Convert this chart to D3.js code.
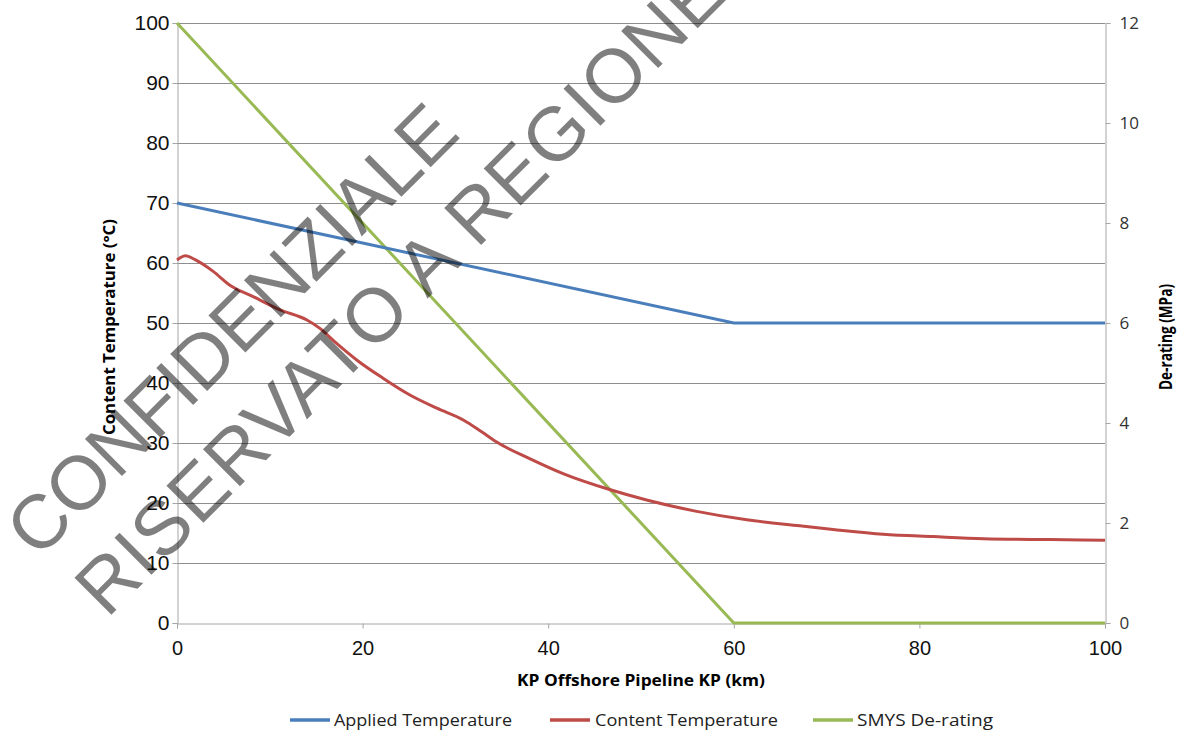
<!DOCTYPE html>
<html>
<head>
<meta charset="utf-8">
<script src="https://cdn.jsdelivr.net/npm/d3@7"></script>
<style>
  html, body { margin: 0; padding: 0; background: #fff; }
  svg { display: block; }
</style>
</head>
<body>
<svg id="chart" width="1181" height="731"></svg>
<script>
// Pipeline distance (km) and temperature / de-rating series
const appliedKP = [0, 60, 100];
const appliedTemp = [70, 50, 50];

const smysKP = [0, 60, 100];
const smysDerating = [12, 0, 0];

const contentKP = [0, 0.9, 1.9, 3.9, 5.7, 8.2, 11.1, 14.0, 15.4, 17.2, 19.4, 22.2, 25.1, 28.0,
  30.9, 32.7, 34.4, 38.0, 41.6, 46.7, 50.6, 56.0, 61.4, 67.1, 70.7, 76.1, 81.5, 86.9, 94.1, 100];
const contentTemp = [60.5, 61.2, 60.6, 58.6, 56.3, 54.4, 52.2, 50.5, 49.1, 46.6, 43.8, 40.8, 38.0, 35.8,
  33.8, 32.0, 30.2, 27.4, 24.9, 22.2, 20.5, 18.6, 17.2, 16.2, 15.6, 14.8, 14.4, 14.05, 13.9, 13.8];

const xTicks = [0, 20, 40, 60, 80, 100];
const leftTicks = [0, 10, 20, 30, 40, 50, 60, 70, 80, 90, 100];
const rightTicks = [0, 2, 4, 6, 8, 10, 12];

const seriesNames = ["Applied Temperature", "Content Temperature", "SMYS De-rating"];
const seriesColors = ["#4A7EBB", "#BE4B48", "#98B954"];

const watermarkLines = ["CONFIDENZIALE", "RISERVATO A REGIONE"];

const svg = d3.select("#chart");
const plot = { left: 177, right: 1105, top: 23, bottom: 623 };

const x = d3.scaleLinear().domain([0, 100]).range([plot.left, plot.right]);
const yL = d3.scaleLinear().domain([0, 100]).range([plot.bottom, plot.top]);
const yR = d3.scaleLinear().domain([0, 12]).range([plot.bottom, plot.top]);

// Horizontal gridlines
svg.append("g")
  .selectAll("line")
  .data(leftTicks.filter(d => d > 0))
  .join("line")
  .attr("x1", plot.left).attr("x2", plot.right)
  .attr("y1", d => yL(d) + 0.5).attr("y2", d => yL(d) + 0.5)
  .attr("stroke", "#8e8e8e").attr("stroke-width", 1);

// Left axis
const leftAxis = svg.append("g")
  .attr("transform", `translate(${plot.left + 0.5},0)`)
  .call(d3.axisLeft(yL).tickValues(leftTicks).tickSize(5).tickPadding(3));
leftAxis.select(".domain").attr("stroke", "#a6a6a6");
leftAxis.selectAll(".tick line").attr("stroke", "#a6a6a6");
leftAxis.selectAll(".tick text")
  .attr("font-family", "Liberation Sans, Arial, sans-serif")
  .attr("font-size", 21).attr("fill", "#111");

// Right axis
const rightAxis = svg.append("g")
  .attr("transform", `translate(${plot.right + 0.5},0)`)
  .call(d3.axisRight(yR).tickValues(rightTicks).tickSize(5).tickPadding(9));
rightAxis.select(".domain").attr("stroke", "#a6a6a6");
rightAxis.selectAll(".tick line").attr("stroke", "#a6a6a6");
rightAxis.selectAll(".tick text")
  .attr("font-family", "Open Sans, Noto Sans, sans-serif")
  .attr("font-size", 17).attr("fill", "#333");

// Bottom axis
const bottomAxis = svg.append("g")
  .attr("transform", `translate(0,${plot.bottom + 0.5})`)
  .call(d3.axisBottom(x).tickValues(xTicks).tickSize(5).tickPadding(12));
bottomAxis.select(".domain").attr("stroke", "#a6a6a6");
bottomAxis.selectAll(".tick line").attr("stroke", "#a6a6a6");
bottomAxis.selectAll(".tick text")
  .attr("font-family", "Liberation Sans, Arial, sans-serif")
  .attr("font-size", 20).attr("fill", "#111");

// Axis titles
svg.append("text")
  .attr("transform", `translate(115,327) rotate(-90)`)
  .attr("text-anchor", "middle")
  .attr("font-family", "Open Sans, sans-serif").attr("font-weight", "bold")
  .attr("font-size", 16).attr("fill", "#000")
  .attr("textLength", 216).attr("lengthAdjust", "spacingAndGlyphs")
  .text("Content Temperature (°C)");

svg.append("text")
  .attr("transform", `translate(1172,337) rotate(-90)`)
  .attr("text-anchor", "middle")
  .attr("font-family", "Open Sans, sans-serif").attr("font-weight", "bold")
  .attr("font-size", 17).attr("fill", "#000")
  .attr("textLength", 106).attr("lengthAdjust", "spacingAndGlyphs")
  .text("De-rating (MPa)");

svg.append("text")
  .attr("x", (plot.left + plot.right) / 2).attr("y", 686)
  .attr("text-anchor", "middle")
  .attr("font-family", "Open Sans, sans-serif").attr("font-weight", "bold")
  .attr("font-size", 16).attr("fill", "#000")
  .attr("textLength", 248).attr("lengthAdjust", "spacingAndGlyphs")
  .text("KP Offshore Pipeline KP (km)");

// Series lines
const lineL = d3.line().x(d => x(d[0])).y(d => yL(d[1]));
const lineR = d3.line().x(d => x(d[0])).y(d => yR(d[1]));
const lineSmooth = d3.line().x(d => x(d[0])).y(d => yL(d[1])).curve(d3.curveMonotoneX);

svg.append("path")
  .datum(smysKP.map((k, i) => [k, smysDerating[i]]))
  .attr("d", lineR).attr("fill", "none")
  .attr("stroke", seriesColors[2]).attr("stroke-width", 3);

svg.append("path")
  .datum(appliedKP.map((k, i) => [k, appliedTemp[i]]))
  .attr("d", lineL).attr("fill", "none")
  .attr("stroke", seriesColors[0]).attr("stroke-width", 3);

svg.append("path")
  .datum(contentKP.map((k, i) => [k, contentTemp[i]]))
  .attr("d", lineSmooth).attr("fill", "none")
  .attr("stroke", seriesColors[1]).attr("stroke-width", 3);

// Legend
const legendItems = [
  { lx: 290, tx: 334, w: 178 },
  { lx: 550, tx: 595, w: 183 },
  { lx: 813, tx: 857, w: 136 }
];
const legend = svg.append("g");
legendItems.forEach((p, i) => {
  legend.append("line")
    .attr("x1", p.lx).attr("x2", p.lx + 40)
    .attr("y1", 720).attr("y2", 720)
    .attr("stroke", seriesColors[i]).attr("stroke-width", 3.5);
  legend.append("text")
    .attr("x", p.tx).attr("y", 726)
    .attr("font-family", "Open Sans, sans-serif")
    .attr("font-size", 16).attr("fill", "#222")
    .attr("textLength", p.w).attr("lengthAdjust", "spacingAndGlyphs")
    .text(seriesNames[i]);
});

// Diagonal translucent stamp across the chart
const stamp = svg.append("g")
  .attr("font-family", "Liberation Sans, Arial, sans-serif")
  .attr("font-size", 76)
  .attr("fill", "#000").attr("fill-opacity", 0.5);
const stampPos = [
  { cx: 231, cy: 329, len: 600 },
  { cx: 399, cy: 289, len: 880 }
];
watermarkLines.forEach((t, i) => {
  const p = stampPos[i];
  stamp.append("text")
    .attr("transform", `translate(${p.cx},${p.cy}) rotate(-45)`)
    .attr("x", 0).attr("y", 27)
    .attr("text-anchor", "middle")
    .attr("textLength", p.len).attr("lengthAdjust", "spacing")
    .text(t);
});
</script>
</body>
</html>
